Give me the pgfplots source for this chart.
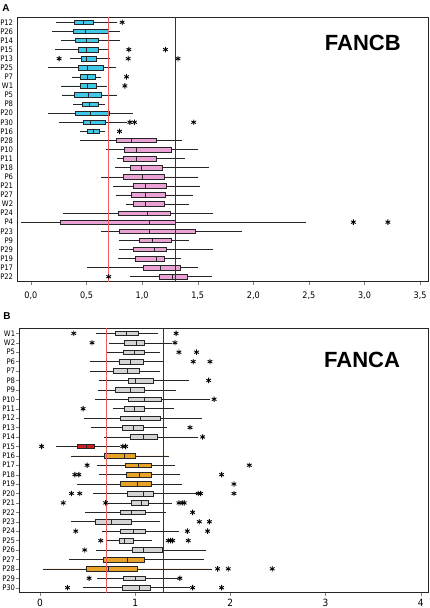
\documentclass[border=0pt]{standalone}
\usepackage{fontspec}
\setmainfont{DejaVu Sans Condensed}
\newfontfamily\arial{Liberation Sans}
\usepackage{pgfplots}
\pgfplotsset{compat=1.18}
\usepgfplotslibrary{statistics}
\definecolor{cyanbox}{RGB}{64,200,232}
\definecolor{pinkbox}{RGB}{234,162,212}
\definecolor{orangebox}{RGB}{232,162,40}
\definecolor{redbox}{RGB}{210,30,30}
\definecolor{greybox}{RGB}{212,212,212}
\definecolor{refred}{RGB}{240,90,90}
\definecolor{refblue}{RGB}{30,30,225}
\newcommand{\bp}[7]{%
\addplot[draw=black!85, line width=0.5pt, fill=#7,
  boxplot prepared={draw position=#1, lower whisker=#2, lower quartile=#3,
  median=#4, upper quartile=#5, upper whisker=#6, box extend=0.5, whisker extend=0},
  boxplot/draw direction=x] coordinates {};}
\pgfplotsset{outl/.style={only marks, mark=asterisk, mark size=2.7pt, black, line width=0.85pt}}
\begin{document}
\begin{tikzpicture}
\path[use as bounding box] (0pt,0pt) rectangle (429pt,608pt);
\node[font=\arial\bfseries\fontsize{10}{10}\selectfont] at (6pt,600pt) {A};
\node[font=\arial\bfseries\fontsize{10}{10}\selectfont] at (7pt,291.5pt) {B};
% ---------------- Panel A ----------------
\begin{axis}[
  at={(17.3pt,326.3pt)}, anchor=south west,
  scale only axis, width=411.4pt, height=264.4pt,
  xmin=-0.122, xmax=3.577, ymin=0.45, ymax=29.55,
  y dir=reverse,
  axis line style={line width=0.75pt, black!85},
  xtick={0,0.5,1,1.5,2,2.5,3,3.5},
  xtick pos=bottom, tick align=outside,
  major tick length=3pt,
  ytick={1,...,29},
  yticklabels={P12,P26,P14,P15,P13,P25,P7,W1,P5,P8,P20,P30,P16,P28,P10,P11,P18,P6,P21,P27,W2,P24,P4,P23,P9,P29,P19,P17,P22},
  y tick style={draw=none},
  ytick pos=left,
  yticklabel style={font=\fontsize{7.6}{8}\selectfont, inner sep=1pt},
  xticklabel style={font=\fontsize{9}{9}\selectfont, yshift=-4pt,
    /pgf/number format/.cd, use comma, fixed, fixed zerofill, precision=1, assume math mode=true},
  clip=false,
]
\bp{1}{0.23}{0.394}{0.469}{0.565}{0.777}{cyanbox}
\bp{2}{0.194}{0.379}{0.487}{0.693}{0.797}{cyanbox}
\bp{3}{0.269}{0.40}{0.499}{0.606}{0.797}{cyanbox}
\bp{4}{0.215}{0.427}{0.499}{0.606}{0.693}{cyanbox}
\bp{5}{0.349}{0.454}{0.499}{0.591}{0.708}{cyanbox}
\bp{6}{0.158}{0.427}{0.505}{0.651}{0.768}{cyanbox}
\bp{7}{0.367}{0.448}{0.511}{0.576}{0.627}{cyanbox}
\bp{8}{0.269}{0.448}{0.511}{0.591}{0.687}{cyanbox}
\bp{9}{0.284}{0.394}{0.517}{0.636}{0.777}{cyanbox}
\bp{10}{0.379}{0.463}{0.523}{0.606}{0.666}{cyanbox}
\bp{11}{0.158}{0.40}{0.535}{0.708}{0.92}{cyanbox}
\bp{12}{0.254}{0.472}{0.535}{0.672}{0.866}{cyanbox}
\bp{13}{0.442}{0.508}{0.562}{0.612}{0.666}{cyanbox}
\bp{14}{0.442}{0.771}{0.902}{1.126}{1.359}{pinkbox}
\bp{15}{0.678}{0.836}{0.947}{1.26}{1.502}{pinkbox}
\bp{16}{0.777}{0.83}{0.947}{1.129}{1.389}{pinkbox}
\bp{17}{0.756}{0.896}{0.992}{1.18}{1.598}{pinkbox}
\bp{18}{0.633}{0.83}{1.0}{1.2}{1.502}{pinkbox}
\bp{19}{0.738}{0.917}{1.03}{1.219}{1.523}{pinkbox}
\bp{20}{0.762}{0.902}{1.03}{1.21}{1.458}{pinkbox}
\bp{21}{0.851}{0.923}{1.03}{1.195}{1.425}{pinkbox}
\bp{22}{0.293}{0.786}{1.05}{1.254}{1.637}{pinkbox}
\bp{23}{-0.09}{0.26}{1.06}{1.299}{2.475}{pinkbox}
\bp{24}{0.633}{0.797}{1.066}{1.478}{1.90}{pinkbox}
\bp{25}{0.79}{0.977}{1.09}{1.26}{1.419}{pinkbox}
\bp{26}{0.79}{0.917}{1.11}{1.219}{1.637}{pinkbox}
\bp{27}{0.786}{0.941}{1.126}{1.195}{1.353}{pinkbox}
\bp{28}{0.508}{1.007}{1.165}{1.344}{1.502}{pinkbox}
\bp{29}{0.887}{1.156}{1.27}{1.404}{1.628}{pinkbox}
\addplot[outl] coordinates {
(0.821,1) (0.881,4) (1.21,4) (0.254,5) (0.875,5) (1.323,5) (0.86,7) (0.845,8)
(0.89,12) (0.932,12) (1.464,12) (0.797,13) (2.9,23) (3.21,23) (0.70,29)};
\addplot[refred, line width=0.8pt] coordinates {(0.7,0.45) (0.7,29.55)};
\addplot[refblue, line width=0.8pt] coordinates {(1.3,0.45) (1.3,29.55)};
\node[font=\arial\bfseries\fontsize{22}{22}\selectfont] at (rel axis cs:0.840,0.903) {FANCB};
\end{axis}
% ---------------- Panel B ----------------
\begin{axis}[
  at={(19.3pt,15.3pt)}, anchor=south west,
  scale only axis, width=409pt, height=264.4pt,
  xmin=-0.2175, xmax=4.08, ymin=0.465, ymax=28.535,
  y dir=reverse,
  axis line style={line width=0.75pt, black!85},
  xtick={0,1,2,3,4},
  xtick pos=bottom, ytick pos=left, tick align=outside,
  major tick length=3pt,
  ytick={1,...,28},
  yticklabels={W1,W2,P5,P6,P7,P8,P9,P10,P11,P12,P13,P14,P15,P16,P17,P18,P19,P20,P21,P22,P23,P24,P25,P26,P27,P28,P29,P30},
  yticklabel style={font=\fontsize{7.6}{8}\selectfont, inner sep=1pt},
  xticklabel style={font=\fontsize{10}{10}\selectfont, /pgf/number format/assume math mode=true},
  clip=false,
]
\bp{1}{0.585}{0.791}{0.906}{1.028}{1.243}{greybox}
\bp{2}{0.721}{0.889}{1.01}{1.098}{1.383}{greybox}
\bp{3}{0.707}{0.871}{0.986}{1.098}{1.26}{greybox}
\bp{4}{0.53}{0.836}{0.948}{1.08}{1.30}{greybox}
\bp{5}{0.53}{0.767}{0.916}{1.038}{1.26}{greybox}
\bp{6}{0.617}{0.923}{1.0}{1.192}{1.569}{greybox}
\bp{7}{0.606}{0.794}{0.948}{1.098}{1.425}{greybox}
\bp{8}{0.575}{0.923}{1.098}{1.272}{1.79}{greybox}
\bp{9}{0.767}{0.889}{0.993}{1.098}{1.41}{greybox}
\bp{10}{0.467}{0.847}{1.052}{1.261}{1.698}{greybox}
\bp{11}{0.54}{0.861}{0.976}{1.087}{1.338}{greybox}
\bp{12}{0.672}{0.951}{1.087}{1.23}{1.656}{greybox}
\bp{13}{0.164}{0.39}{0.488}{0.568}{0.84}{redbox}
\bp{14}{0.324}{0.672}{0.882}{1.0}{1.358}{orangebox}
\bp{15}{0.599}{0.899}{1.028}{1.167}{1.418}{orangebox}
\bp{16}{0.62}{0.906}{1.038}{1.174}{1.47}{orangebox}
\bp{17}{0.39}{0.843}{1.021}{1.167}{1.495}{orangebox}
\bp{18}{0.557}{0.916}{1.08}{1.195}{1.645}{greybox}
\bp{19}{0.714}{0.958}{1.066}{1.139}{1.383}{greybox}
\bp{20}{0.47}{0.847}{0.958}{1.105}{1.32}{greybox}
\bp{21}{0.324}{0.582}{0.749}{0.958}{1.26}{greybox}
\bp{22}{0.655}{0.847}{0.976}{1.105}{1.464}{greybox}
\bp{23}{0.70}{0.836}{0.889}{0.976}{1.18}{greybox}
\bp{24}{0.592}{0.969}{1.08}{1.282}{1.744}{greybox}
\bp{25}{0.307}{0.662}{0.916}{1.091}{1.726}{orangebox}
\bp{26}{0.028}{0.481}{0.721}{1.017}{1.803}{orangebox}
\bp{27}{0.603}{0.871}{1.0}{1.105}{1.446}{greybox}
\bp{28}{0.453}{0.861}{1.038}{1.157}{1.576}{greybox}
\addplot[outl] coordinates {
(0.355,1) (1.43,1) (0.547,2) (1.418,2) (1.46,3) (1.645,3) (1.61,4) (1.786,4)
(1.772,6) (1.83,8) (0.453,9) (1.576,11) (1.709,12)
(0.017,13) (0.87,13) (0.90,13)
(0.495,15) (2.199,15) (0.366,16) (0.408,16) (1.908,16) (2.038,17)
(0.331,18) (0.418,18) (1.663,18) (1.688,18) (2.038,18)
(0.244,19) (0.69,19) (1.46,19) (1.495,19) (1.516,19)
(1.604,20) (1.674,21) (1.78,21) (0.376,22) (1.548,22) (1.761,22)
(0.638,23) (1.348,23) (1.372,23) (1.394,23) (1.558,23) (0.47,24)
(1.866,26) (1.978,26) (2.44,26) (0.516,27) (1.47,27)
(0.289,28) (1.604,28) (1.908,28)};
\addplot[refred, line width=0.8pt] coordinates {(0.7,0.465) (0.7,28.535)};
\addplot[refblue, line width=0.8pt] coordinates {(1.3,0.465) (1.3,28.535)};
\node[font=\arial\bfseries\fontsize{22}{22}\selectfont] at (rel axis cs:0.838,0.880) {FANCA};
\end{axis}
\end{tikzpicture}
\end{document}
